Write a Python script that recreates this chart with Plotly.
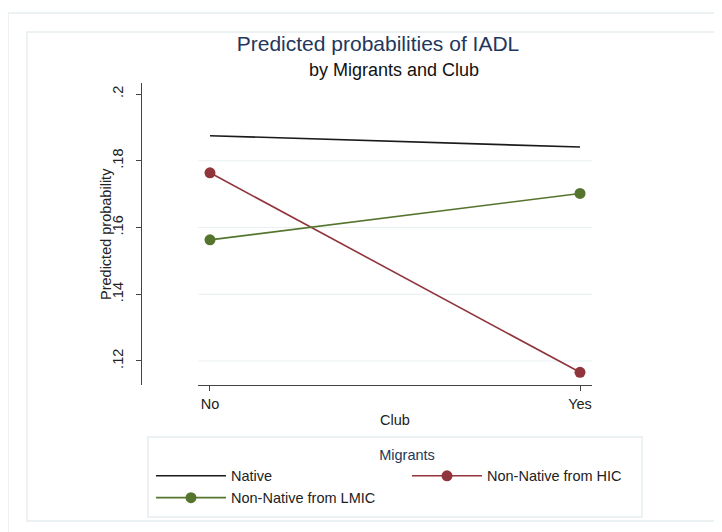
import plotly.graph_objects as go

# ---- data ----
club = ["No", "Yes"]
series_names = ["Native", "Non-Native from HIC", "Non-Native from LMIC"]
native = [0.1875, 0.1841]
hic = [0.1764, 0.1166]
lmic = [0.1563, 0.1702]
y_tickvals = [0.12, 0.14, 0.16, 0.18, 0.2]
y_ticktext = [".12", ".14", ".16", ".18", ".2"]
grid_vals = [0.12, 0.14, 0.16, 0.18]

W, H = 722, 532
OFF = 8  # page body margin of the html page
FONT = "Liberation Sans, Arial, sans-serif"


def px(x):
    return (x - OFF) / W


def py(y):
    return 1 - (y - OFF) / H


colors = ["#1a1a1a", "#90353b", "#55752f"]
values = [native, hic, lmic]
modes = ["lines", "lines+markers", "lines+markers"]

fig = go.Figure()
for name, vals, col, mode in zip(series_names, values, colors, modes):
    fig.add_trace(go.Scatter(
        x=club, y=vals, name=name, mode=mode,
        line=dict(color=col, width=1.6),
        marker=dict(size=11, color=col),
    ))

yrange = [0.1128, 0.2033]
frame_col = "#e6eef0"
x_dom = [px(198), px(592)]

shapes = [
    dict(type="rect", xref="paper", yref="paper", x0=px(8), x1=px(760),
         y0=py(580), y1=py(13), line=dict(color=frame_col, width=1.5), layer="below"),
    dict(type="rect", xref="paper", yref="paper", x0=px(27), x1=px(716),
         y0=py(521), y1=py(32), line=dict(color=frame_col, width=1.5), layer="below"),
    dict(type="rect", xref="paper", yref="paper", x0=px(148), x1=px(642),
         y0=py(517), y1=py(437), line=dict(color=frame_col, width=1.5),
         fillcolor="white", layer="below"),
]
for g in grid_vals:
    shapes.append(dict(type="line", xref="paper", yref="y", x0=x_dom[0], x1=x_dom[1],
                       y0=g, y1=g, line=dict(color="#e8f0f1", width=1), layer="below"))

fig.update_layout(
    width=W, height=H,
    margin=dict(l=0, r=0, t=0, b=0),
    paper_bgcolor="white", plot_bgcolor="white",
    font=dict(family=FONT, size=14.5, color="#222"),
    title=dict(text="Predicted probabilities of IADL", x=px(378), xanchor="center",
               y=py(44), yanchor="middle", xref="paper", yref="paper",
               font=dict(size=21, color="#23375c", family=FONT)),
    xaxis=dict(domain=x_dom, type="category", range=[-0.0324, 1.0324],
               showline=True, linecolor="#444", linewidth=1.2, ticks="outside",
               ticklen=5, tickcolor="#444", showgrid=False, zeroline=False,
               tickfont=dict(size=14.5, color="#222"),
               title=dict(text="Club", standoff=4, font=dict(size=14.5, color="#222"))),
    yaxis=dict(domain=[py(385), py(83)], range=yrange, anchor="free", position=px(141),
               side="left", tickvals=y_tickvals, ticktext=y_ticktext, tickangle=-90,
               ticks="outside", ticklen=5, tickcolor="#444", showline=True,
               linecolor="#444", linewidth=1.2, showgrid=False, zeroline=False,
               ticklabelstandoff=7, tickfont=dict(size=14.5, color="#222")),
    legend=dict(orientation="h", x=px(151), xanchor="left", y=py(441), yanchor="top",
                xref="paper", yref="paper", bgcolor="rgba(0,0,0,0)", borderwidth=0,
                itemwidth=70, entrywidth=171, font=dict(size=14.5, color="#222"),
                title=dict(text="Migrants", side="top center",
                           font=dict(size=14.5, color="#23375c"))),
    shapes=shapes,
    annotations=[
        dict(text="by Migrants and Club", x=px(394), y=py(70), xref="paper", yref="paper",
             xanchor="center", yanchor="middle", showarrow=False,
             font=dict(size=18, color="#111")),
        dict(text="Predicted probability", x=px(106), y=py(234), xref="paper", yref="paper",
             xanchor="center", yanchor="middle", showarrow=False, textangle=-90,
             font=dict(size=14.5, color="#222")),
    ],
)

fig.write_html("out.html")
